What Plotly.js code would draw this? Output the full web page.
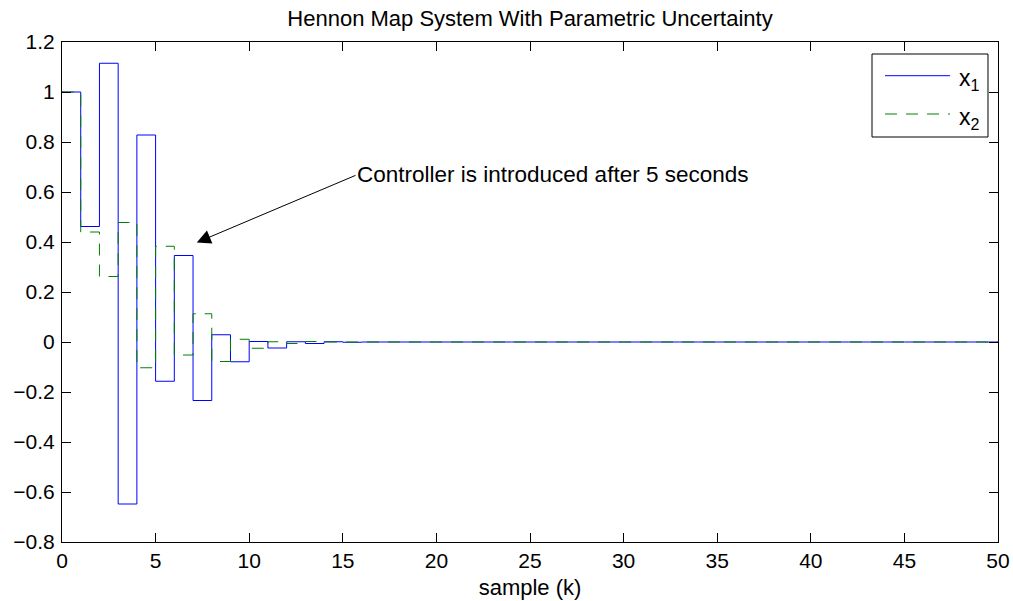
<!DOCTYPE html>
<html>
<head>
<meta charset="utf-8">
<script src="https://cdn.plot.ly/plotly-3.0.1.min.js"></script>
<style>html,body{margin:0;padding:0;background:#fff;}#chart{width:1013px;height:601px;}</style>
</head>
<body>
<div id="chart"></div>
<script>
// sample index k = 0..50
var samples = [0,1,2,3,4,5,6,7,8,9,10,11,12,13,14,15,16,17,18,19,20,21,22,23,24,25,26,27,28,29,30,31,32,33,34,35,36,37,38,39,40,41,42,43,44,45,46,47,48,49,50];
var x1Values = [1.0,0.462,1.115,-0.648,0.828,-0.157,0.346,-0.234,0.029,-0.079,0.002,-0.024,0.001,-0.006,0.001,-0.001,0,0,0,0,0,0,0,0,0,0,0,0,0,0,0,0,0,0,0,0,0,0,0,0,0,0,0,0,0,0,0,0,0,0,0];
var x2Values = [1.0,0.44,0.262,0.478,-0.103,0.383,-0.052,0.113,-0.078,0.011,-0.025,0.001,-0.006,0.002,0,0,0,0,0,0,0,0,0,0,0,0,0,0,0,0,0,0,0,0,0,0,0,0,0,0,0,0,0,0,0,0,0,0,0,0,0];
var seriesNames = ['x<sub>1</sub>', 'x<sub>2</sub>'];
var seriesColors = ['#0000ff', '#008000'];
var seriesDash = ['solid', '12px,9px'];
var xTicks = [0,5,10,15,20,25,30,35,40,45,50];
var yTicks = [-0.8,-0.6,-0.4,-0.2,0,0.2,0.4,0.6,0.8,1,1.2];
var yTickText = ['\u22120.8','\u22120.6','\u22120.4','\u22120.2','0','0.2','0.4','0.6','0.8','1','1.2'];
var titleText = 'Hennon Map System With Parametric Uncertainty';
var xLabel = 'sample (k)';
var noteText = 'Controller is introduced after 5 seconds';
var arrowTip = [7.2, 0.398];
var arrowTail = [15.76, 0.669];

var font = 'Liberation Sans, Arial, Helvetica, sans-serif';
var traces = [0, 1].map(function (i) {
  return {x: samples, y: i === 0 ? x1Values : x2Values, name: seriesNames[i], type: 'scatter', mode: 'lines',
    line: {shape: 'hv', color: seriesColors[i], width: 1, dash: seriesDash[i]}, showlegend: false};
});
var axisCommon = {showline: true, linecolor: '#000', linewidth: 1, mirror: 'ticks',
  ticks: 'inside', ticklen: 9, tickcolor: '#000', tickwidth: 1, showgrid: false, zeroline: false,
  tickfont: {family: font, size: 21, color: '#000'}};

// hand-made legend box (paper coordinates of the plot area)
var legBox = {x0: 0.8654, x1: 0.9893, y0: 0.81, y1: 0.976};
var legRows = [0.9326, 0.856];
var shapes = [{type: 'rect', xref: 'paper', yref: 'paper', x0: legBox.x0, x1: legBox.x1, y0: legBox.y0, y1: legBox.y1,
  line: {color: '#000', width: 1}, fillcolor: '#fff', layer: 'above'}];
var annotations = [
  {x: arrowTip[0], y: arrowTip[1], ax: arrowTail[0], ay: arrowTail[1], axref: 'x', ayref: 'y',
   xref: 'x', yref: 'y', text: '', showarrow: true, arrowhead: 2, arrowsize: 2.8, arrowwidth: 1, arrowcolor: '#000'},
  {x: arrowTail[0], y: arrowTail[1], xref: 'x', yref: 'y', text: noteText, showarrow: false,
   xanchor: 'left', yanchor: 'middle', xshift: -2, font: {family: font, size: 22.5, color: '#000'}}
];
legRows.forEach(function (ry, i) {
  shapes.push({type: 'line', xref: 'paper', yref: 'paper', x0: 0.8793, x1: 0.9487, y0: ry, y1: ry,
    line: {color: seriesColors[i], width: 1, dash: seriesDash[i]}, layer: 'above'});
  annotations.push({x: 0.9562, y: ry, xref: 'paper', yref: 'paper', text: seriesNames[i], showarrow: false,
    xanchor: 'left', yanchor: 'middle', yshift: -4, font: {family: font, size: 23, color: '#000'}});
});

var layout = {
  width: 1013, height: 601,
  margin: {l: 62, r: 15, t: 42, b: 59},
  paper_bgcolor: '#fff', plot_bgcolor: '#fff',
  title: {text: titleText, font: {family: font, size: 22, color: '#000'}, xref: 'paper', x: 0.5, xanchor: 'center',
    yref: 'container', y: 1 - 18 / 601, yanchor: 'middle'},
  xaxis: Object.assign({}, axisCommon, {range: [0, 50], tickvals: xTicks,
    title: {text: xLabel, font: {family: font, size: 22, color: '#000'}, standoff: 8}}),
  yaxis: Object.assign({}, axisCommon, {range: [-0.8, 1.2], tickvals: yTicks, ticktext: yTickText, ticklabelstandoff: 2}),
  showlegend: false,
  shapes: shapes,
  annotations: annotations
};
Plotly.newPlot('chart', traces, layout, {displayModeBar: false, staticPlot: true});
</script>
</body>
</html>
